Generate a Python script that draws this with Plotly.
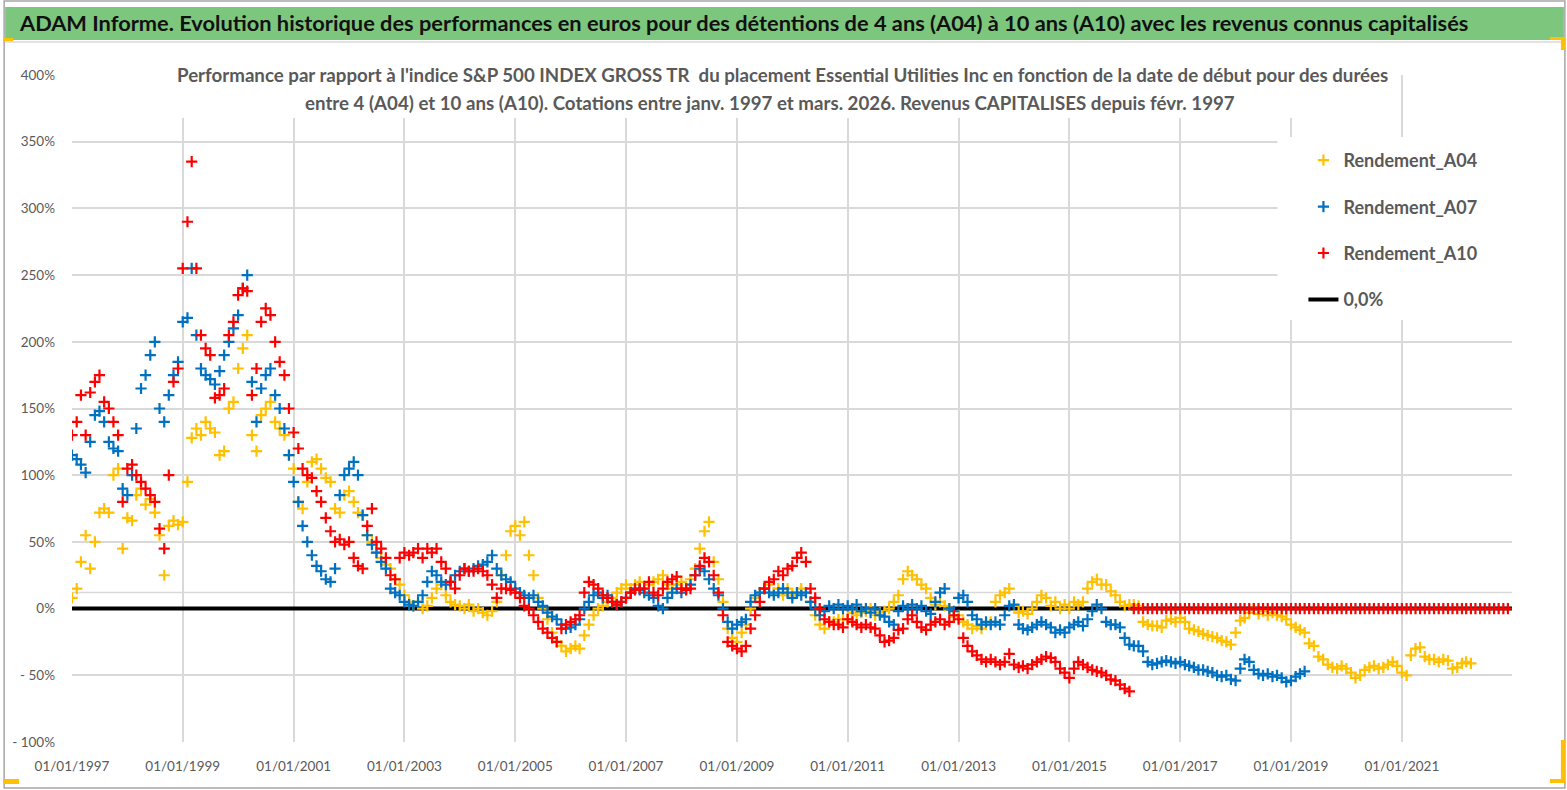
import pandas as pd
import plotly.graph_objects as go

# Performance relative (%) par mois de debut de detention
A04 = [
    8, 15, 35, 55, 30, 50, 72, 75, 72, 100, 105, 45,            # 1997
    68, 66, 85, 90, 78, 82, 72, 55, 25, 62, 66, 63,             # 1998
    65, 95, 128, 135, 130, 140, 135, 132, 115, 118, 150, 155,   # 1999
    180, 195, 205, 130, 118, 145, 150, 155, 140, 135, 130, 115, # 2000
    105, 80, 75, 95, 110, 112, 105, 98, 95, 75, 72, 85,         # 2001
    88, 80, 72, 70, 55, 50, 42, 38, 33, 30, 22, 18,             # 2002
    10, 5, 2, 5, 0, 2, 8, 15, 18, 10, 5, 3,                     # 2003
    2, 0, 3, -2, 0, -3, -5, -2, 5, 25, 40, 58,                  # 2004
    62, 55, 65, 40, 25, 8, 0, -8, -18, -25, -28, -32,           # 2005
    -30, -28, -30, -20, -12, -5, 0, 2, 5, 8, 12, 15,            # 2006
    18, 15, 18, 20, 15, 18, 20, 22, 25, 18, 15, 18,             # 2007
    20, 15, 22, 30, 45, 58, 65, 35, 22, 5, -15, -22,            # 2008
    -25, -18, -12, 0, 8, 12, 15, 18, 12, 15, 10, 15,            # 2009
    10, 12, 15, 12, 5, -5, -12, -15, -10, -10, -8, -8,          # 2010
    -8, -3, -5, -3, -2, 0, -5, -3, -2, 0, 5, 10,                # 2011
    22, 28, 25, 22, 18, 15, 8, 3, 5, 2, 0, -6,                  # 2012
    -5, -10, -12, -15, -13, -15, -12, -10, 5, 10, 12, 15,       # 2013
    2, -3, -2, -4, 0, 5, 10, 8, 2, 5, 0, 3,                     # 2014
    0, 5, 3, 5, 15, 20, 22, 18, 18, 13, 10, 5,                  # 2015
    2, 3, 3, 2, -10, -12, -13, -13, -14, -9, -8, -10,           # 2016
    -7, -10, -15, -16, -17, -19, -20, -21, -22, -24, -25, -27,  # 2017
    -18, -9, -7, -3, 0, -4, -2, -5, -3, -5, -6, -8,             # 2018
    -12, -14, -16, -18, -26, -28, -36, -38, -42, -44, -45, -43, # 2019
    -45, -48, -52, -50, -46, -44, -43, -45, -44, -42, -40, -43, # 2020
    -48, -50, -35, -30, -29, -36, -38, -38, -40, -38, -39, -45, # 2021
    -44, -41, -40, -41,                                         # 2022
]

A07 = [
    115, 112, 108, 102, 125, 145, 148, 140, 125, 120, 118, 90,  # 1997
    85, 100, 135, 165, 175, 190, 200, 150, 140, 160, 175, 185,  # 1998
    215, 218, 255, 205, 180, 175, 172, 168, 178, 190, 200, 210, # 1999
    220, 240, 250, 170, 140, 165, 175, 180, 160, 150, 135, 115, # 2000
    95, 80, 62, 50, 40, 32, 28, 22, 20, 30, 85, 100,            # 2001
    105, 110, 100, 70, 55, 48, 42, 35, 30, 15, 12, 10,          # 2002
    5, 3, 2, 5, 10, 20, 28, 25, 20, 18, 20, 25,                 # 2003
    28, 30, 28, 30, 32, 33, 35, 40, 30, 25, 22, 20,             # 2004
    15, 12, 10, 8, 10, 5, 2, -3, -6, -8, -12, -15,              # 2005
    -14, -12, -8, 0, 5, 10, 12, 8, 10, 5, 3, 5,                 # 2006
    8, 12, 15, 14, 12, 10, 8, 2, 0, 8, 12, 15,                  # 2007
    12, 15, 18, 25, 30, 28, 22, 15, 10, 0, -10, -15,            # 2008
    -12, -10, -8, 5, 10, 12, 15, 12, 10, 12, 15, 12,            # 2009
    8, 12, 10, 12, 5, 0, -5, -2, 2, 0, 3, 0,                    # 2010
    2, 0, 3, -2, 0, -3, 0, -5, -6, -10, -12, -2,                # 2011
    2, 0, 3, 0, 2, -2, -4, 5, 12, 15, 0, -2,                    # 2012
    8, 10, 5, -5, -8, -12, -10, -12, -10, -12, -5, 2,           # 2013
    3, -12, -15, -16, -14, -12, -10, -12, -14, -18, -16, -18,   # 2014
    -14, -12, -10, -13, -8, -2, 3, 0, -10, -12, -12, -14,       # 2015
    -22, -27, -28, -28, -32, -40, -42, -41, -40, -39, -40, -41, # 2016
    -40, -42, -43, -44, -46, -46, -47, -48, -50, -51, -50, -53, # 2017
    -54, -45, -38, -40, -46, -49, -50, -49, -51, -50, -52, -55, # 2018
    -54, -51, -49, -47,                                         # 2019
]

A10 = [
    130, 140, 160, 130, 162, 170, 175, 155, 150, 140, 130, 80,  # 1997
    105, 108, 100, 95, 90, 85, 80, 60, 45, 100, 170, 180,       # 1998
    255, 290, 335, 255, 205, 195, 190, 158, 160, 165, 205, 215, # 1999
    235, 240, 238, 160, 180, 215, 225, 220, 200, 185, 175, 150, # 2000
    132, 120, 105, 100, 98, 88, 80, 68, 58, 50, 52, 48,         # 2001
    50, 38, 32, 30, 62, 75, 50, 45, 38, 25, 22, 38,             # 2002
    42, 40, 42, 45, 38, 45, 42, 45, 35, 30, 20, 15,             # 2003
    25, 30, 28, 28, 30, 28, 25, 18, 8, 15, 15, 14,              # 2004
    12, 8, 2, 0, -5, -10, -15, -18, -22, -25, -15, -12,         # 2005
    -10, -8, -5, 12, 20, 18, 15, 10, 8, 5, 3, 5,                # 2006
    8, 12, 14, 15, 15, 20, 12, 10, 15, 20, 22, 24,              # 2007
    15, 14, 15, 25, 32, 38, 35, 25, 12, -5, -25, -28,           # 2008
    -30, -32, -28, -15, -5, 5, 15, 20, 22, 28, 25, 30,          # 2009
    32, 38, 42, 35, 15, 8, 0, -8, -10, -12, -12, -14,           # 2010
    -8, -10, -12, -14, -12, -14, -15, -20, -25, -24, -22, -16,  # 2011
    -15, -8, -5, -10, -14, -16, -12, -10, -8, -12, -10, -5,     # 2012
    -8, -22, -28, -32, -35, -38, -40, -38, -40, -42, -40, -34,  # 2013
    -42, -44, -43, -45, -42, -40, -38, -36, -37, -40, -45, -48, # 2014
    -52, -45, -40, -42, -44, -46, -47, -48, -50, -53, -54, -57, # 2015
    -60, -62, 0, 0, 0, 0, 0, 0, 0, 0, 0, 0,                     # 2016
    0, 0, 0, 0, 0, 0, 0, 0, 0, 0, 0, 0,                         # 2017
    0, 0, 0, 0, 0, 0, 0, 0, 0, 0, 0, 0,                         # 2018
    0, 0, 0, 0, 0, 0, 0, 0, 0, 0, 0, 0,                         # 2019
    0, 0, 0, 0, 0, 0, 0, 0, 0, 0, 0, 0,                         # 2020
    0, 0, 0, 0, 0, 0, 0, 0, 0, 0, 0, 0,                         # 2021
    0, 0, 0, 0, 0, 0, 0, 0, 0, 0, 0, 0,                         # 2022
]

ZERO_X = ["1997-01-01", "2022-12-31"]
ZERO_Y = [0, 0]

X_TICKS = ["1997-01-01", "1999-01-01", "2001-01-01", "2003-01-01", "2005-01-01", "2007-01-01",
           "2009-01-01", "2011-01-01", "2013-01-01", "2015-01-01", "2017-01-01", "2019-01-01",
           "2021-01-01"]
X_TICK_TEXT = ["01/01/1997", "01/01/1999", "01/01/2001", "01/01/2003", "01/01/2005", "01/01/2007",
               "01/01/2009", "01/01/2011", "01/01/2013", "01/01/2015", "01/01/2017", "01/01/2019",
               "01/01/2021"]
Y_TICKS = [-100, -50, 0, 50, 100, 150, 200, 250, 300, 350, 400]
Y_TICK_TEXT = ["- 100%", "- 50%", "0%", "50%", "100%", "150%", "200%", "250%", "300%", "350%", "400%"]

TITLE = ("ADAM Informe. Evolution historique des performances en euros pour des détentions "
         "de 4 ans (A04) à 10 ans (A10) avec les revenus connus capitalisés")
SUB1 = ("Performance par rapport à l'indice S&P 500 INDEX GROSS TR  du placement Essential "
        "Utilities Inc en fonction de la date de début pour des durées")
SUB2 = ("entre 4 (A04) et 10 ans (A10). Cotations entre janv. 1997 et mars. 2026. "
        "Revenus CAPITALISES depuis févr. 1997")

W, H = 1567, 790
L, R, T, B = 69, 1512, 75, 742
FONT = "Lato, 'Liberation Sans', Arial, sans-serif"
GREY = "#595959"
GRID = "#d9d9d9"


def px_x(px):
    return (px - L) / (R - L)


def px_y(py):
    return (B - py) / (B - T)


def dates(values):
    return pd.date_range("1997-01-01", periods=len(values), freq="MS")


fig = go.Figure()

fig.add_trace(go.Scatter(x=ZERO_X, y=ZERO_Y, mode="lines", name="0,0%",
                         line=dict(color="black", width=4),
                         legendrank=4, legendgroup="z"))

series = [("Rendement_A04", A04, "#ffc000", 1),
          ("Rendement_A07", A07, "#0070c0", 2),
          ("Rendement_A10", A10, "#ff0000", 3)]
for name, vals, col, rank in series:
    fig.add_trace(go.Scatter(
        x=dates(vals), y=vals, mode="markers", name=name,
        marker=dict(symbol="cross-thin", size=8, color=col,
                    line=dict(color=col, width=2.2)),
        legendrank=rank, legendgroup=name))


def rect(x0, y0, x1, y1, fill, layer="above", line=None):
    return dict(type="rect", xref="paper", yref="paper",
                x0=px_x(x0), x1=px_x(x1), y0=px_y(y0), y1=px_y(y1),
                fillcolor=fill, line=line or dict(width=0), layer=layer)


shapes = [
    # cadre et bandeau
    rect(1, 1, 1565, 788, "rgba(0,0,0,0)", line=dict(color="#a6a6a6", width=1.5)),
    rect(2, 7, 1564, 40, "#7dc67d"),
    dict(type="line", xref="paper", yref="paper", x0=px_x(2), x1=px_x(1564),
         y0=px_y(42), y1=px_y(42), line=dict(color="#d9d9d9", width=1.5)),
    # fonds blancs du sous-titre et de la legende
    rect(110, 58, 1393, 118, "white"),
    rect(1277, 137, 1516, 320, "white"),
    # ligne grise horizontale supplementaire
    dict(type="line", xref="paper", yref="y", x0=0, x1=1, y0=12, y1=12,
         line=dict(color=GRID, width=1.5), layer="below"),
    # poignees de selection jaunes
    rect(0, 779, 16, 784, "#ffc000"),
    rect(0, 38, 10, 41, "#ffc000"),
    rect(1550, 37, 1565, 40, "#ffc000"),
    rect(1561, 37, 1565, 50, "#ffc000"),
    rect(1561, 740, 1565, 783, "#ffc000"),
    rect(1550, 779, 1565, 783, "#ffc000"),
]

annotations = [
    dict(text="<b>" + TITLE + "</b>", xref="paper", yref="paper", x=px_x(14), y=px_y(23),
         xanchor="left", yanchor="middle", showarrow=False,
         font=dict(family=FONT, size=21.8, color="#111111")),
    dict(text="<b>" + SUB1 + "</b>", xref="paper", yref="paper", x=px_x(781), y=px_y(75),
         xanchor="center", yanchor="middle", showarrow=False,
         font=dict(family=FONT, size=18.7, color=GREY)),
    dict(text="<b>" + SUB2 + "</b>", xref="paper", yref="paper", x=px_x(768), y=px_y(103),
         xanchor="center", yanchor="middle", showarrow=False,
         font=dict(family=FONT, size=18.7, color=GREY)),
]

fig.update_layout(
    width=W, height=H,
    margin=dict(l=L, r=W - R, t=T, b=H - B),
    paper_bgcolor="white", plot_bgcolor="white",
    font=dict(family=FONT, color=GREY),
    showlegend=True,
    legend=dict(x=px_x(1303), y=px_y(142), xanchor="left", yanchor="top",
                bgcolor="rgba(0,0,0,0)",
                font=dict(family=FONT, size=18, color=GREY, weight="bold"),
                tracegroupgap=20, traceorder="grouped"),
    shapes=shapes, annotations=annotations,
)

fig.update_xaxes(type="date", range=["1997-01-01", "2022-12-28"],
                 tickvals=X_TICKS, ticktext=X_TICK_TEXT,
                 showgrid=True, gridcolor=GRID, gridwidth=1.5,
                 showline=False, zeroline=False, ticks="",
                 tickfont=dict(family=FONT, size=13.5, color=GREY), ticklabelstandoff=14)
fig.update_yaxes(range=[-100, 400], tickvals=Y_TICKS, ticktext=Y_TICK_TEXT,
                 showgrid=True, gridcolor=GRID, gridwidth=1.5,
                 showline=False, zeroline=False, ticks="",
                 tickfont=dict(family=FONT, size=13.5, color=GREY), ticklabelstandoff=16)

# la page est photographiee sans la marge par defaut du navigateur, sans barre d'outils
fig.write_html("out.html", config={"displayModeBar": False},
               post_script="document.body.style.margin='0px';")
